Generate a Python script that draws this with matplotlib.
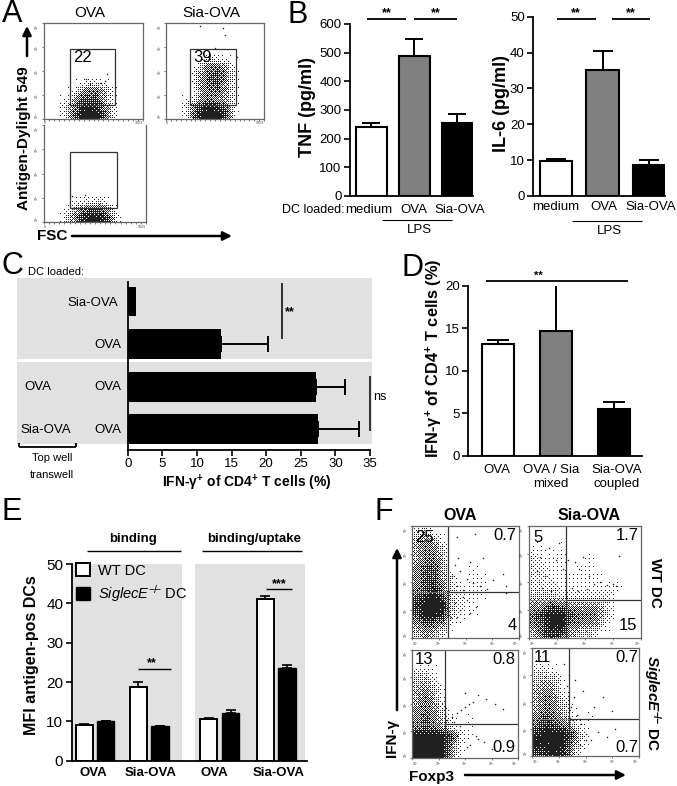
import numpy as np
import matplotlib
matplotlib.use("Agg")
import matplotlib.pyplot as plt
from matplotlib.patches import Rectangle

plt.rcParams['font.family'] = ['Liberation Sans', 'DejaVu Sans']
plt.rcParams['mathtext.fontset'] = 'custom'
plt.rcParams['mathtext.rm'] = 'Liberation Sans'
plt.rcParams['mathtext.it'] = 'Liberation Sans:italic'
plt.rcParams['mathtext.bf'] = 'Liberation Sans:bold'
plt.rcParams['mathtext.bfit'] = 'Liberation Sans:italic:bold'

W, H = 677, 786
GREY_BG = '#e1e1e1'
BAR_COLORS = ['white', '#808080', 'black']

# panel B
tnf_values = [240, 490, 255]
tnf_errors = [15, 58, 30]
il6_values = [9.8, 35.2, 8.6]
il6_errors = [0.5, 5.2, 1.3]

# panel C
c_values = [1.2, 13.5, 27.2, 27.5]
c_errors = [0, 6.7, 4.2, 5.9]

# panel D
d_values = [13.1, 14.7, 5.5]
d_errors = [0.5, 5.4, 0.8]

# panel E
e_wt = [9.1, 18.8, 10.6, 41.2]
e_wt_err = [0.3, 1.2, 0.2, 0.6]
e_ko = [10.0, 8.7, 12.1, 23.5]
e_ko_err = [0.1, 0.2, 0.7, 0.8]

# flow plots: estimated dot density per cell, 0-9, top row first
a1_density = ["000000000000"] * 7 + ["000012210000", "000146641000", "001377731000",
                                     "002589852000", "002699962000"]
a2_density = ["000000000000"] * 4 + ["000012210000", "000146640000", "000257751000", "000257741000",
                                     "000156641000", "001256541000", "002689861000", "002799971000"]
a3_density = ["000000000000"] * 9 + ["000122310000", "001367751000", "002589972000"]
f1_density = ["230000000000", "454100000000", "465300000000", "466300000000",
              "577400100000", "577420110000", "578521110000", "789731110000",
              "899932100000", "799831100000", "576510000000", "354200000000"]
f2_density = ["000000000000", "000000000000", "110100000000", "211100100000",
              "221101100000", "221111110000", "222111111100", "333222222000",
              "557654542000", "689976652000", "679965541000", "378743310000"]
f3_density = ["000000000000", "000000000000", "221000000000", "342000000000",
              "453100000000", "464100000000", "565200000000", "575310100000",
              "676420100000", "999972100000", "999961000000", "999951000000"]
f4_density = ["000000000000", "100000000000", "221000000000", "343100000000",
              "454100000000", "465200000000", "465310000000", "576410100000",
              "687631000000", "899973000000", "999962000000", "789841000000"]

# stray events outside the dense clouds
a1_x = [.42, .64, .46, .58, .62]
a1_y = [.42, .47, .36, .38, .40]
a2_x = [.35, .58, .60, .50, .72]
a2_y = [.97, .95, .87, .74, .65]
a3_x = [.27, .28, .40]
a3_y = [.27, .14, .28]
f1_x = [.42, .59, .40, .45, .51, .57, .64, .42, .48, .70, .88, .40, .45, .54, .36, .42, .60, .76, .85, .37, .43, .54, .66, .88, .51, .48]
f1_y = [.90, .93, .65, .60, .53, .49, .46, .46, .43, .44, .40, .31, .25, .22, .19, .19, .28, .52, .57, .55, .71, .68, .71, .46, .34, .37]
f2_x = [.10, .18, .24, .27, .30, .07, .14, .21, .35, .41, .45, .48, .54, .58, .63, .70, .75, .78, .80, .38, .44, .52, .12, .20]
f2_y = [.72, .80, .70, .85, .62, .60, .55, .50, .70, .68, .62, .72, .55, .48, .50, .47, .48, .46, .73, .45, .42, .44, .45, .42]
f3_x = [.33, .38, .42, .46, .50, .54, .58, .62, .70, .78, .86, .50, .40, .45, .60, .68, .55, .35, .42, .52, .62, .75]
f3_y = [.35, .38, .42, .44, .47, .50, .52, .58, .55, .50, .45, .60, .33, .30, .20, .15, .12, .25, .20, .10, .18, .08]
f4_x = [.38, .42, .36, .46, .50, .39, .55, .62, .70, .78, .45, .50, .58, .66, .75, .40, .48, .35, .30, .33]
f4_y = [.33, .38, .45, .30, .20, .55, .15, .22, .18, .25, .10, .15, .45, .55, .42, .70, .60, .75, .85, .65]

fig = plt.figure(figsize=(W / 100, H / 100), dpi=100)


def px_axes(x0, y0, x1, y1, **kw):
    return fig.add_axes([x0 / W, 1 - y1 / H, (x1 - x0) / W, (y1 - y0) / H], **kw)


# full figure overlay in pixels, for labels and annotation lines
ov = fig.add_axes([0, 0, 1, 1], zorder=20)
ov.set_xlim(0, W)
ov.set_ylim(H, 0)
ov.axis('off')
ov.patch.set_alpha(0)


def label(x, y, s, size=9.5, ha='center', va='center', **kw):
    ov.text(x, y, s, fontsize=size, ha=ha, va=va, **kw)


def line(x0, y0, x1, y1, lw=1.3):
    ov.plot([x0, x1], [y0, y1], color='black', lw=lw, solid_capstyle='butt')


def arrow(x0, y0, x1, y1):
    ov.annotate('', xy=(x1, y1), xytext=(x0, y0),
                arrowprops=dict(arrowstyle='-|>', lw=1.8, color='black', mutation_scale=13, shrinkA=0, shrinkB=0))


def bar_panel(rect, values, errors, ymax, yticks, xlim, width, cap):
    ax = px_axes(*rect)
    ax.patch.set_alpha(0)
    x = np.arange(len(values))
    ax.bar(x, values, width=width, color=BAR_COLORS, edgecolor='black', linewidth=1.5)
    ax.errorbar(x, values, yerr=[np.zeros(len(errors)), errors], fmt='none', ecolor='black',
                elinewidth=1.4, capsize=cap, capthick=1.4)
    ax.set_xlim(*xlim)
    ax.set_ylim(0, ymax)
    ax.set_yticks(yticks)
    ax.set_xticks([])
    ax.tick_params(axis='y', labelsize=9.5, width=1.2, length=4.5, pad=1.5)
    for s in ['top', 'right']:
        ax.spines[s].set_visible(False)
    for s in ['left', 'bottom']:
        ax.spines[s].set_linewidth(1.3)
    return ax


def halftone(density, w, h):
    # draws the read density as single dots with an ordered screen, one image pixel per screen pixel
    grid = np.array([[int(c) for c in row] for row in density], dtype=float) / 9
    ny, nx = grid.shape
    xi = (np.arange(w) + .5) / w * nx - .5
    yi = (np.arange(h) + .5) / h * ny - .5
    across = np.array([np.interp(xi, np.arange(nx), row) for row in grid])
    cover = np.array([np.interp(yi, np.arange(ny), col) for col in across.T]).T
    bayer = np.array([[0]])
    while bayer.shape[0] < 8:
        bayer = np.block([[4 * bayer, 4 * bayer + 2], [4 * bayer + 3, 4 * bayer + 1]])
    screen = np.tile((bayer + .5) / 64, (h // 8 + 1, w // 8 + 1))[:h, :w]
    return cover ** 1.3 > screen


def flow_panel(rect, density, xs, ys, kind):
    ax = px_axes(*rect)
    w, h = int(round(rect[2] - rect[0])), int(round(rect[3] - rect[1]))
    ax.imshow(halftone(density, w, h), extent=(0, 1, 0, 1), aspect='auto', cmap='gray_r', vmin=0, vmax=1.15,
              interpolation='nearest')
    ax.scatter(xs, ys, s=1.2, color='#222222', linewidths=0)
    ax.set_xlim(0, 1)
    ax.set_ylim(0, 1)
    for s in ax.spines.values():
        s.set_color('#666666')
        s.set_linewidth(0.9)
    ax.set_yticks([0, .25, .5, .75, 1])
    ylabs = ax.set_yticklabels(['10$^0$', '10$^1$', '10$^2$', '10$^3$', '10$^4$'], rotation=90, va='center')
    ylabs[0].set_va('bottom')
    ylabs[-1].set_va('top')
    if kind == 'A':
        ax.set_xticks(np.arange(0, 1.01, .05))
        xlabs = ax.set_xticklabels(['0'] + [''] * 19 + ['1023'])
    else:
        ax.set_xticks([0, .25, .5, .75, 1])
        xlabs = ax.set_xticklabels(['10$^0$', '10$^1$', '10$^2$', '10$^3$', '10$^4$'])
    xlabs[0].set_ha('left')
    xlabs[-1].set_ha('right')
    ax.tick_params(labelsize=2.5, width=0.5, length=1.5, pad=0.3, colors='#444444')
    return ax


# ---- A ----
label(12, 14, 'A', size=22)
a1 = flow_panel((44, 23, 143, 119), a1_density, a1_x, a1_y, 'A')
a2 = flow_panel((166, 23, 264, 119), a2_density, a2_x, a2_y, 'A')
a3 = flow_panel((44, 125, 146, 222), a3_density, a3_x, a3_y, 'A')
a3.spines['top'].set_visible(False)
for ax, (g0, g1, g2, g3) in zip([a1, a2, a3], [(.26, .145, .72, .73), (.245, .15, .71, .73), (.255, .145, .72, .72)]):
    ax.add_patch(Rectangle((g0, g1), g2 - g0, g3 - g1, fill=False, ec='#333333', lw=0.9))
label(90, 13, 'OVA', size=11)
label(211, 13, 'Sia-OVA', size=11)
label(82, 57, '22', size=12)
label(203, 57, '39', size=12)
label(24, 138, 'Antigen-Dylight 549', size=11, rotation=90, fontweight='bold')
arrow(27, 56, 27, 26)
label(37, 236, 'FSC', size=11, ha='left', fontweight='bold')
arrow(72, 236, 232, 236)

# ---- B ----
label(298, 15, 'B', size=22)
bar_panel((350, 24, 473, 196), tnf_values, tnf_errors, 600, range(0, 601, 100), (-.493, 2.363), .72, 6.5)
bar_panel((533, 16.7, 665, 196), il6_values, il6_errors, 50, range(0, 51, 10), (-.495, 2.344), .69, 7.5)
label(308, 107, 'TNF (pg/ml)', size=13, rotation=90, fontweight='bold')
label(502, 103, 'IL-6 (pg/ml)', size=13, rotation=90, fontweight='bold')
for x0, x1 in [(367, 405.7), (414, 457), (556.7, 595.7), (611.7, 650)]:
    line(x0, 19, x1, 19)
    label((x0 + x1) / 2, 13, '**', size=9, fontweight='bold')
label(282, 210, 'DC loaded:', size=9, ha='left')
label(369, 210, 'medium', size=9.5)
label(414, 210, 'OVA', size=9.5)
label(460, 210, 'Sia-OVA', size=9.5)
line(382, 220, 452, 220, lw=0.8)
label(419, 230, 'LPS', size=9.5)
label(556, 207, 'medium', size=9.5)
label(604, 207, 'OVA', size=9.5)
label(651, 207, 'Sia-OVA', size=9.5)
line(572, 221, 642, 221, lw=0.8)
label(609, 231, 'LPS', size=9.5)

# ---- C ----
label(12, 266, 'C', size=22)
label(28, 272, 'DC loaded:', size=8, ha='left')
bg = px_axes(17, 278, 372, 444)
bg.set_xlim(17, 372)
bg.set_ylim(444, 278)
bg.axis('off')
bg.axhspan(278, 359, color=GREY_BG, lw=0)
bg.axhspan(362, 444, color=GREY_BG, lw=0)
axc = px_axes(127.7, 282, 370, 450)
axc.patch.set_alpha(0)
yc = np.arange(len(c_values))
axc.barh(yc, c_values, height=.70, color='black')
axc.errorbar(c_values[1:], yc[1:], xerr=[np.zeros(3), c_errors[1:]], fmt='none', ecolor='black',
             elinewidth=1.4, capsize=5.5, capthick=1.4)
axc.set_xlim(0, 35)
axc.set_ylim(3.49, -.46)
axc.set_yticks([])
axc.set_xticks(range(0, 36, 5))
axc.tick_params(axis='x', labelsize=9.5, width=1.2, length=4, pad=1.5)
for s in ['top', 'right']:
    axc.spines[s].set_visible(False)
for s in ['left', 'bottom']:
    axc.spines[s].set_linewidth(1.3)
label(118, 303, 'Sia-OVA', ha='right')
for y in [345, 387, 430]:
    label(121, y, 'OVA', ha='right')
label(38, 387, 'OVA')
label(46, 430, 'Sia-OVA')
line(19, 447, 76, 447)
line(19, 443, 19, 447)
line(76, 443, 76, 447)
label(52, 458, 'Top well', size=8)
label(52, 475, 'transwell', size=8)
line(282, 283, 282, 339, lw=1.1)
label(290, 312, '**', size=9, fontweight='bold')
line(370, 376, 370, 431, lw=1.1)
label(380, 397, 'ns', size=9)
label(247, 483, 'IFN-γ$^{\\mathbf{+}}$ of CD4$^{\\mathbf{+}}$ T cells (%)', size=10, fontweight='bold')

# ---- D ----
label(413, 268, 'D', size=22)
bar_panel((468, 285.7, 642, 456), d_values, d_errors, 20, range(0, 21, 5), (-.517, 2.474), .55, 8)
line(486, 281, 628, 281)
label(538, 276, '**', size=8, fontweight='bold')
label(434, 358, 'IFN-γ$^{\\mathbf{+}}$ of CD4$^{\\mathbf{+}}$ T cells (%)', size=11.8, rotation=90, fontweight='bold')
label(497, 470, 'OVA', size=9.5)
label(551, 470, 'OVA / Sia', size=9.5)
label(551, 484, 'mixed', size=9.5)
label(617, 470, 'Sia-OVA', size=9.5)
label(617, 484, 'coupled', size=9.5)

# ---- E ----
label(12, 512, 'E', size=22)
axe = px_axes(71.7, 564, 306.7, 760.7)
axe.set_xlim(71.7, 306.7)
axe.set_ylim(0, 50)
axe.axvspan(72.7, 181.7, ymax=1.007, color=GREY_BG, lw=0)
axe.axvspan(195, 305, ymax=1.007, color=GREY_BG, lw=0)
wt_pos = [84.3, 138.3, 208.5, 265.3]
ko_pos = [105.7, 160, 230.5, 286.8]
axe.bar(wt_pos, e_wt, width=17, color='white', edgecolor='black', linewidth=1.4, label='WT DC')
axe.bar(ko_pos, e_ko, width=17.5, color='black', edgecolor='black', linewidth=1.0, label=r'$\mathit{SiglecE}^{{-}\!/\!{-}}$ DC')
axe.errorbar(wt_pos, e_wt, yerr=[np.zeros(4), e_wt_err], fmt='none', ecolor='black', elinewidth=1.2, capsize=3.5, capthick=1.2)
axe.errorbar(ko_pos, e_ko, yerr=[np.zeros(4), e_ko_err], fmt='none', ecolor='black', elinewidth=1.2, capsize=3.5, capthick=1.2)
axe.set_xticks([])
axe.set_yticks(range(0, 51, 10))
axe.tick_params(axis='y', labelsize=11, width=1.2, length=4.5, pad=1.5)
for s in ['top', 'right']:
    axe.spines[s].set_visible(False)
for s in ['left', 'bottom']:
    axe.spines[s].set_linewidth(1.3)
axe.legend(loc='upper left', bbox_to_anchor=(0.005, 1.02), frameon=False, fontsize=10.5, handlelength=1,
           handleheight=1, handletextpad=0.5, labelspacing=0.35, borderaxespad=0, borderpad=0.2)
label(32, 655, 'MFI antigen-pos DCs', size=11.5, rotation=90, fontweight='bold')
label(132.7, 539, 'binding', size=9.5, fontweight='bold')
line(87, 550.7, 181, 550.7, lw=1)
label(254, 539, 'binding/uptake', size=9.5, fontweight='bold')
line(202, 550.7, 302, 550.7, lw=1)
line(138, 669, 171, 669, lw=1)
label(152, 663, '**', size=9, fontweight='bold')
line(265.7, 588.7, 291.7, 588.7, lw=1)
label(279, 584, '***', size=9, fontweight='bold')
for x, s in zip([93, 150.7, 214, 279], ['OVA', 'Sia-OVA', 'OVA', 'Sia-OVA']):
    label(x, 773, s, size=9.5, fontweight='bold')

# ---- F ----
label(384, 512, 'F', size=22)
label(460, 515, 'OVA', size=11.5, fontweight='bold')
label(589, 515, 'Sia-OVA', size=11.5, fontweight='bold')
f_panels = [(412, 526, 519, 638), (529, 526, 641, 638), (412, 650, 518, 758), (532, 648, 639, 756)]
f_density = [f1_density, f2_density, f3_density, f4_density]
f_x = [f1_x, f2_x, f3_x, f4_x]
f_y = [f1_y, f2_y, f3_y, f4_y]
f_vgate = [.336, .33, .31, .346]
f_hgate = [.41, .34, .315, .343]
for i in range(4):
    ax = flow_panel(f_panels[i], f_density[i], f_x[i], f_y[i], 'F')
    ax.axvline(f_vgate[i], color='#333333', lw=0.9)
    ax.axhline(f_hgate[i], xmin=f_vgate[i], color='#333333', lw=0.9)
    ax.axhline(f_hgate[i], xmax=f_vgate[i], color='#888888', lw=0.5)
for x, y, s in [(424, 538, '25'), (505, 536, '0.7'), (512, 626, '4'),
                (538, 537, '5'), (627, 536, '1.7'), (628, 626, '15'),
                (424, 660, '13'), (504, 659, '0.8'), (504, 748, '0.9'),
                (542, 658, '11'), (627, 658, '0.7'), (627, 748, '0.7')]:
    label(x, y, s, size=12)
label(655, 583, 'WT DC', size=11, rotation=270, fontweight='bold')
label(652, 703, r'$\mathbfit{SiglecE}^{\mathbf{{-}\!/\!{-}}}$ DC', size=11, rotation=270, fontweight='bold')
label(392, 738, 'IFN-γ', size=11, rotation=90, fontweight='bold')
arrow(397, 710, 397, 548)
label(409, 777, 'Foxp3', size=11, ha='left', fontweight='bold')
arrow(465, 775, 626, 775)

fig.savefig('out.png', dpi=100)
